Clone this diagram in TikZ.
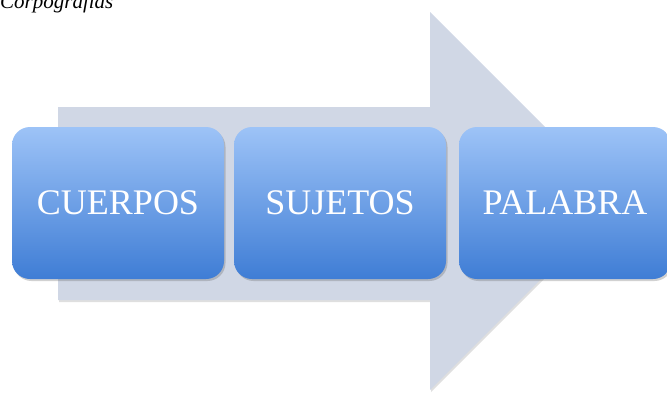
\documentclass[tikz,border=0pt]{standalone}
\usepackage{fontspec}
\setmainfont{Liberation Serif}
\usetikzlibrary{shadows}
\definecolor{arrowfill}{HTML}{D0D7E5}
\definecolor{boxtop}{HTML}{9DC3F7}
\definecolor{boxbot}{HTML}{3F7DD5}
\tikzset{
  stagebox/.style={rounded corners=18pt, minimum width=212pt, minimum height=152pt, inner sep=0pt,
    top color=boxtop, bottom color=boxbot, text=white, font=\fontsize{36}{40}\selectfont,
    drop shadow={shadow xshift=1.5pt, shadow yshift=-2pt, opacity=0.3, fill=black!60}},
}
\begin{document}
\begin{tikzpicture}[x=1pt,y=-1pt]
\useasboundingbox (0,0) rectangle (667,394);
\clip (0,0) rectangle (667,394);
\fill[arrowfill, drop shadow={shadow xshift=1pt, shadow yshift=-2pt, opacity=0.25, fill=black!50}]
  (58,107) -- (430,107) -- (430,12) -- (619,201) -- (430,390) -- (430,300) -- (58,300) -- cycle;
\node[stagebox] (cuerpos) at (118,203) {CUERPOS};
\node[stagebox] (sujetos) at (340,203) {SUJETOS};
\node[stagebox] (palabra) at (565,203) {PALABRA};
\node[anchor=base west, inner sep=0pt, font=\itshape\fontsize{21}{24}\selectfont] (title) at (0,8) {Corpografías};
\end{tikzpicture}
\end{document}
